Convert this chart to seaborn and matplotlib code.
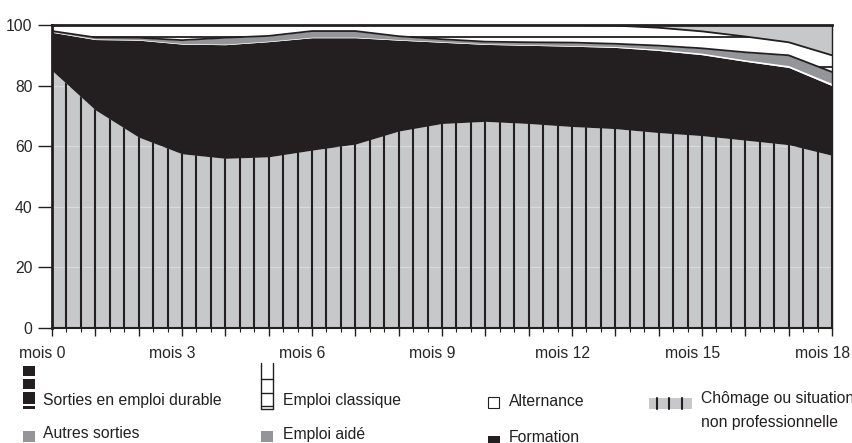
import numpy as np
import pandas as pd
import matplotlib
matplotlib.use("Agg")
import matplotlib.pyplot as plt
from matplotlib.patches import Rectangle
from matplotlib.transforms import ScaledTranslation
import seaborn as sns

# donnees (en % des jeunes, mois 0 a 18)
mois = list(range(19))
chomage = [85, 72, 63, 57.5, 56, 56.5, 58.7, 60.7, 65, 67.5, 68.2, 67.5, 66.5, 65.8, 64.5, 63.5, 62, 60.5, 57]
formation = [12.6, 23.2, 32.0, 36.2, 37.5, 38.0, 37.1, 35.1, 30.0, 26.8, 25.4, 25.8, 26.5, 26.8, 27.1, 26.7, 26.0, 25.5, 23.0]
alternance = [0.2, 0.2, 0.2, 0.2, 0.2, 0.2, 0.2, 0.2, 0.2, 0.2, 0.2, 0.2, 0.2, 0.3, 0.4, 0.5, 0.5, 0.6, 0.7]
emploi_aide = [0.2, 0.5, 0.6, 1.1, 2.1, 1.7, 2.0, 2.0, 1.1, 0.8, 0.7, 0.8, 1.0, 0.9, 1.2, 1.6, 2.5, 3.4, 3.8]
emploi_classique = [2.0, 4.1, 4.2, 5.0, 4.2, 3.6, 2.0, 2.0, 3.7, 4.7, 5.5, 5.7, 5.8, 6.0, 5.9, 5.6, 5.2, 4.3, 5.5]
autres_sorties = [0, 0, 0, 0, 0, 0, 0, 0, 0, 0, 0, 0, 0, 0.2, 0.9, 2.1, 3.8, 5.7, 10.0]

x_labels = ["mois 0", "mois 3", "mois 6", "mois 9", "mois 12", "mois 15", "mois 18"]

LIGHT = "#c6c8ca"
MID = "#939598"
BLACK = "#231f20"
FS = 11.3

sns.set_style("white")
plt.rcParams['font.family'] = ['Liberation Sans', 'DejaVu Sans']

W, H = 853, 443
fig = plt.figure(figsize=(W / 100, H / 100), dpi=100)
ax = fig.add_axes([52 / W, 1 - 328 / H, 780 / W, 303 / H])

layers = [chomage, formation, alternance, emploi_aide, emploi_classique, autres_sorties]
colors = [LIGHT, BLACK, "white", MID, "white", LIGHT]
polys = ax.stackplot(mois, layers, colors=colors, linewidth=0, zorder=1)

# hachures verticales du chomage
stripes = np.linspace(0, 18, 55)
vl = ax.vlines(stripes, 0, 100, color=BLACK, lw=1.5, zorder=3)
vl.set_clip_path(polys[0].get_paths()[0], ax.transData)
gl = ax.hlines([20, 40, 60, 80], 0, 18, color="white", alpha=0.35, lw=0.8, zorder=2)
gl.set_clip_path(polys[0].get_paths()[0], ax.transData)

# barreaux de l'emploi classique
hl = ax.hlines([86, 96], 0, 18, color=BLACK, lw=1.3, zorder=3)
hl.set_clip_path(polys[4].get_paths()[0], ax.transData)

# limites des couches superieures
cum = np.cumsum(np.array(layers), axis=0)
bords = pd.DataFrame({"mois": mois, "aide": cum[3], "classique": cum[4]})
bords = bords.melt(id_vars="mois", var_name="limite", value_name="val")
sns.lineplot(data=bords, x="mois", y="val", units="limite", estimator=None,
             color=BLACK, lw=1.3, ax=ax, zorder=4, legend=False)

ax.set_xlim(0, 18)
ax.set_ylim(0, 100)
ax.set_xlabel("")
ax.set_ylabel("")
ax.set_xticks(range(19))
ax.set_xticklabels([x_labels[i // 3] if i % 3 == 0 else "" for i in range(19)])
ax.set_xticks(np.arange(0, 18.01, 1 / 3), minor=True)
ax.set_yticks([0, 20, 40, 60, 80, 100])
ax.tick_params(axis="y", length=10, width=1, pad=4, color=BLACK, labelsize=FS, left=True)
ax.tick_params(axis="x", which="major", length=6, width=1, pad=7, color=BLACK, labelsize=FS, bottom=True)
ax.tick_params(axis="x", which="minor", length=3, width=0.8, color=BLACK, bottom=True)
for lab in ax.get_xticklabels():
    lab.set_transform(lab.get_transform() + ScaledTranslation(-7 / 72, 0, fig.dpi_scale_trans))

for side, lw in [("left", 2), ("bottom", 1.5), ("top", 2), ("right", 1)]:
    ax.spines[side].set_visible(True)
    ax.spines[side].set_color(BLACK)
    ax.spines[side].set_linewidth(lw)
    ax.spines[side].set_zorder(5)

# legende dessinee a la main
lax = fig.add_axes([0, 0, 1, 1])
lax.set_xlim(0, W)
lax.set_ylim(H, 0)
lax.axis("off")

def rect(x0, y0, x1, y1, **kw):
    lax.add_patch(Rectangle((x0, y0), x1 - x0, y1 - y0, **kw))

for y0, y1 in [(366, 375.5), (379, 388.5), (392, 404), (405.5, 408.5)]:
    rect(22.7, y0, 35, y1, color=BLACK, lw=0)
lax.plot([261, 261], [363, 409], color=BLACK, lw=1)
lax.plot([273, 273], [363, 409], color=BLACK, lw=1)
for y in [379, 392.5, 406, 409]:
    lax.plot([261, 273], [y, y], color=BLACK, lw=1)
rect(488.5, 397, 499.5, 408, facecolor="white", edgecolor=BLACK, lw=0.8)
rect(649, 398, 692, 409, color=LIGHT, lw=0)
for x in [657, 669, 682]:
    lax.plot([x, x], [398, 409], color=BLACK, lw=1.5)
rect(22.7, 431, 35, 442, color=MID, lw=0)
rect(261, 431, 273, 442, color=MID, lw=0)
rect(488, 436, 500, 443, color=BLACK, lw=0)

txt = dict(fontsize=FS, va="center", ha="left", color=BLACK)
lax.text(43, 400, "Sorties en emploi durable", **txt)
lax.text(283, 400, "Emploi classique", **txt)
lax.text(509, 401, "Alternance", **txt)
lax.text(701, 399, "Chômage ou situation", **txt)
lax.text(701, 423, "non professionnelle", **txt)
lax.text(43, 434, "Autres sorties", **txt)
lax.text(283, 434, "Emploi aidé", **txt)
lax.text(509, 437, "Formation", **txt)

fig.savefig("out.png", dpi=100)
